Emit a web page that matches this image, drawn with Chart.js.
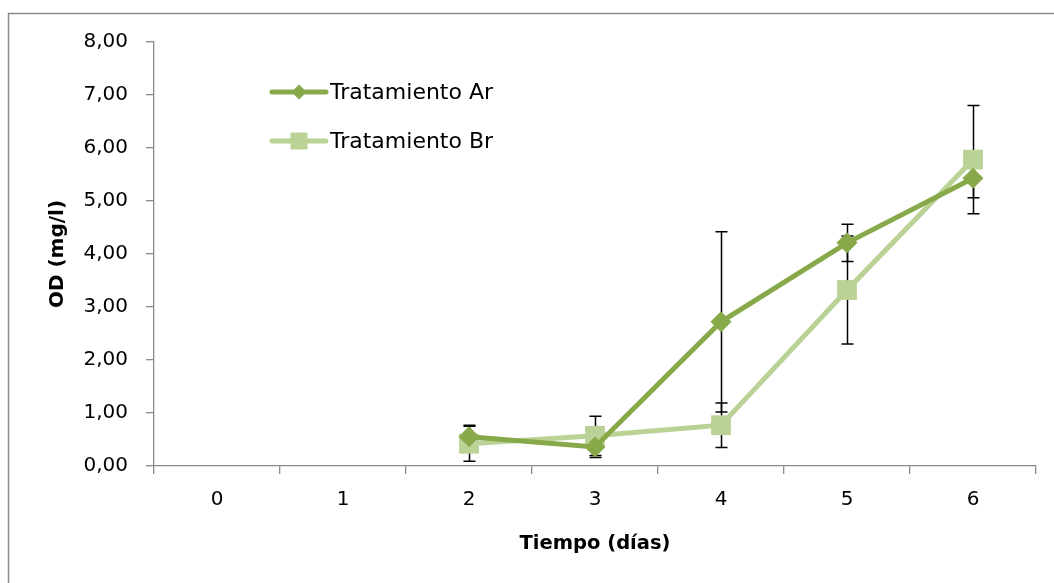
<!DOCTYPE html>
<html>
<head>
<meta charset="utf-8">
<script src="https://cdn.jsdelivr.net/npm/chart.js@4/dist/chart.umd.min.js"></script>
<style>
  html, body { margin: 0; padding: 0; background: #fff; }
  #wrap { width: 1054px; height: 583px; }
</style>
</head>
<body>
<div id="wrap"><canvas id="line-chart" width="1054" height="583"></canvas></div>
<script>
// days on the x axis
const dias = ["0", "1", "2", "3", "4", "5", "6"];

// Tratamiento Ar (diamonds)
const tratA = [null, null, 0.55, 0.36, 2.72, 4.21, 5.43];
const errA  = [null, null, 0.22, 0.20, 1.70, 0.35, 0.37];

// Tratamiento Br (squares)
const tratB = [null, null, 0.42, 0.57, 0.77, 3.32, 5.78];
const errB  = [null, null, 0.33, 0.37, 0.42, 1.02, 1.02];

const colA = '#88a94a';
const colB = '#bbd296';
const fontName = "'DejaVu Sans', sans-serif";

// outer frame of the chart object
const framePlugin = {
  id: 'frame',
  beforeDraw(chart) {
    const ctx = chart.ctx;
    ctx.save();
    ctx.fillStyle = '#fff';
    ctx.fillRect(0, 0, chart.width, chart.height);
    ctx.strokeStyle = '#8a8a8a';
    ctx.lineWidth = 1.5;
    ctx.strokeRect(8.5, 13.5, 1200, 800);
    ctx.restore();
  }
};

// vertical error bars with caps
const errorBars = {
  id: 'errorBars',
  beforeDatasetsDraw(chart) {
    const ctx = chart.ctx;
    const x = chart.scales.x, y = chart.scales.y;
    const errs = [errA, errB];
    ctx.save();
    ctx.strokeStyle = '#000';
    ctx.lineWidth = 1.5;
    chart.data.datasets.forEach((ds, i) => {
      ds.data.forEach((v, j) => {
        const e = errs[i][j];
        if (v == null || e == null) return;
        const px = Math.round(x.getPixelForValue(j)) + 0.5;
        const top = y.getPixelForValue(v + e);
        const bot = y.getPixelForValue(v - e);
        ctx.beginPath();
        ctx.moveTo(px, top); ctx.lineTo(px, bot);
        ctx.moveTo(px - 6, top); ctx.lineTo(px + 6, top);
        ctx.moveTo(px - 6, bot); ctx.lineTo(px + 6, bot);
        ctx.stroke();
      });
    });
    ctx.restore();
  }
};

// legend placed inside the plot area, top left
const legendBox = {
  id: 'legendBox',
  afterDraw(chart) {
    const ctx = chart.ctx;
    const sizes = [7.5, 12];
    ctx.save();
    chart.data.datasets.forEach((ds, i) => {
      const ly = 92 + i * 49;
      ctx.strokeStyle = ds.borderColor;
      ctx.lineWidth = 5;
      ctx.lineCap = 'round';
      ctx.beginPath();
      ctx.moveTo(272, ly); ctx.lineTo(326, ly);
      ctx.stroke();
      ctx.fillStyle = ds.pointBackgroundColor;
      Chart.helpers.drawPoint(ctx, {
        pointStyle: ds.pointStyle, radius: sizes[i], borderWidth: 0
      }, 299, ly);
      ctx.fillStyle = '#000';
      ctx.font = '22px ' + fontName;
      ctx.textBaseline = 'middle';
      ctx.fillText(ds.label, 330, ly + 1);
    });
    ctx.restore();
  }
};

new Chart(document.getElementById('line-chart'), {
  type: 'line',
  data: {
    labels: dias,
    datasets: [{
      label: 'Tratamiento Ar',
      data: tratA,
      borderColor: colA,
      backgroundColor: colA,
      pointBackgroundColor: colA,
      pointBorderColor: colA,
      pointBorderWidth: 0,
      borderWidth: 5,
      pointStyle: 'rectRot',
      pointRadius: 10.5,
      tension: 0
    }, {
      label: 'Tratamiento Br',
      data: tratB,
      borderColor: colB,
      backgroundColor: colB,
      pointBackgroundColor: colB,
      pointBorderColor: colB,
      pointBorderWidth: 0,
      borderWidth: 5,
      pointStyle: 'rect',
      pointRadius: 14,
      tension: 0
    }]
  },
  options: {
    responsive: false,
    animation: false,
    events: [],
    layout: { padding: { left: 0, top: 42, right: 18, bottom: 0 } },
    plugins: {
      legend: { display: false },
      tooltip: { enabled: false }
    },
    scales: {
      x: {
        offset: true,
        afterFit(s) { s.height = 117; },
        grid: { offset: true, drawOnChartArea: false, tickLength: 8, color: '#8a8a8a', lineWidth: 1.3 },
        border: { color: '#8a8a8a', width: 1.3 },
        ticks: { color: '#000', padding: 14, font: { family: fontName, size: 20 } },
        title: {
          display: true, text: 'Tiempo (días)', color: '#000',
          font: { family: fontName, size: 19.5, weight: 'bold' },
          padding: { top: 0, bottom: 27 }
        }
      },
      y: {
        min: 0, max: 8,
        afterFit(s) { s.width = 154; },
        grid: { drawOnChartArea: false, tickLength: 8, color: '#8a8a8a', lineWidth: 1.3 },
        border: { color: '#8a8a8a', width: 1.3 },
        ticks: {
          stepSize: 1, color: '#000', padding: 18,
          font: { family: fontName, size: 20 },
          callback: v => v.toFixed(2).replace('.', ',')
        },
        title: {
          display: true, text: 'OD (mg/l)', color: '#000',
          font: { family: fontName, size: 20, weight: 'bold' },
          padding: { top: 46, bottom: 0 }
        }
      }
    }
  },
  plugins: [framePlugin, errorBars, legendBox]
});
</script>
</body>
</html>
